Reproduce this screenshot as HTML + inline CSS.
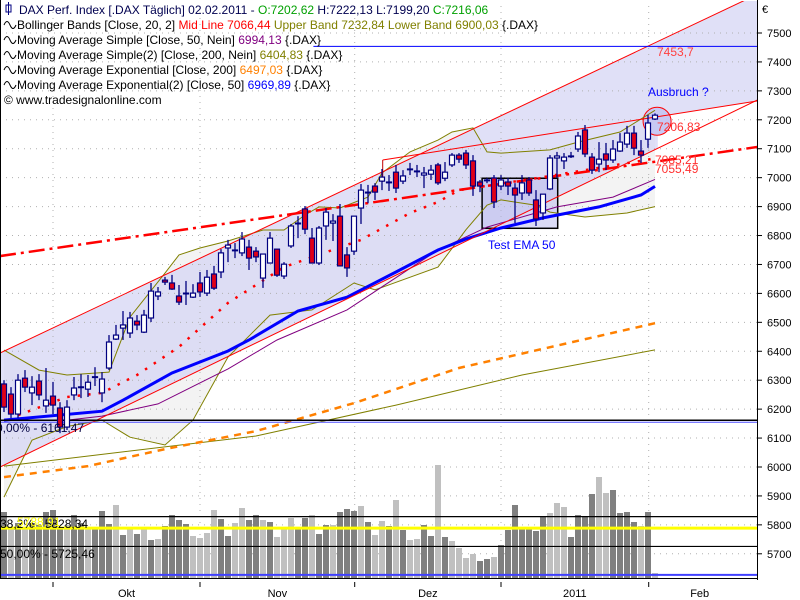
<!DOCTYPE html>
<html><head><meta charset="utf-8"><style>
html,body{margin:0;padding:0;background:#fff;}
svg{display:block;font-family:"Liberation Sans",sans-serif;}
</style></head><body>
<svg id="chart" width="800" height="600" viewBox="0 0 800 600" xmlns="http://www.w3.org/2000/svg">
<rect x="0" y="0" width="800" height="600" fill="#fff"/>
<defs><clipPath id="plotclip"><rect x="1" y="1" width="756" height="577"/></clipPath></defs>
<g id="plot" clip-path="url(#plotclip)"></g>
<g id="axes"></g>
<g id="legend" font-size="12">
<text x="19" y="14"><tspan fill="#000050">DAX Perf. Index [.DAX  Täglich] 02.02.2011 - </tspan><tspan fill="#00a000">O:7202,62</tspan><tspan fill="#000050"> H:7222,13 L:7199,20 </tspan><tspan fill="#00a000">C:7216,06</tspan></text>
<text x="17" y="29"><tspan>Bollinger Bands [Close, 20, 2] </tspan><tspan fill="#ff0000">Mid Line 7066,44 </tspan><tspan fill="#808000">Upper Band 7232,84 Lower Band 6900,03 </tspan><tspan>{.DAX}</tspan></text>
<text x="17" y="44">Moving Average Simple [Close, 50, Nein] <tspan fill="#800080">6994,13</tspan> {.DAX}</text>
<text x="17" y="59">Moving Average Simple(2) [Close, 200, Nein] <tspan fill="#808000">6404,83</tspan> {.DAX}</text>
<text x="17" y="74">Moving Average Exponential [Close, 200] <tspan fill="#ff8000">6497,03</tspan> {.DAX}</text>
<text x="17" y="89">Moving Average Exponential(2) [Close, 50] <tspan fill="#0000ff">6969,89</tspan> {.DAX}</text>
<text x="4" y="104">© www.tradesignalonline.com</text>
</g>
</svg>
<script>
// ---- data ----
const opens  = [6287,6252,6183,6307,6256,6297,6211,6245,6204,6138,6249,6276,6269,6311,6256,6342,6442,6480,6463,6504,6466,6515,6591,6646,6636,6591,6601,6587,6636,6601,6667,6674,6757,6750,6740,6760,6746,6653,6705,6753,6660,6764,6843,6892,6791,6705,6833,6843,6867,6733,6746,6895,6947,6971,6988,6985,7019,6988,7030,7023,7009,7012,7044,6998,7044,7078,7085,7058,6985,6992,6999,6971,6985,6964,6947,6992,6923,6878,6961,7068,7058,7075,7099,7165,7071,7047,7082,7061,7092,7116,7154,7092,7133,7202.62];
const highs  = [6300,6276,6321,6335,6314,6321,6342,6294,6224,6231,6311,6321,6318,6345,6328,6456,6491,6539,6536,6525,6543,6636,6622,6657,6664,6629,6643,6632,6674,6681,6695,6753,6785,6774,6812,6785,6760,6736,6812,6753,6708,6840,6867,6902,6826,6833,6895,6874,6909,6760,6867,6978,6975,6981,7030,7009,7044,7026,7051,7044,7037,7044,7051,7054,7085,7085,7096,7078,6992,6999,7009,7009,6999,6981,7009,7002,6957,6943,7078,7089,7085,7089,7158,7182,7085,7123,7120,7130,7154,7179,7179,7130,7217,7222.13];
const lows   = [6190,6169,6169,6259,6214,6231,6187,6183,6117,6128,6231,6238,6242,6280,6224,6335,6439,6439,6446,6473,6463,6501,6577,6629,6612,6560,6560,6584,6588,6591,6612,6653,6708,6722,6729,6681,6708,6619,6708,6657,6650,6757,6791,6805,6705,6698,6785,6781,6695,6657,6733,6840,6912,6923,6957,6954,6947,6978,7009,7002,6964,6992,6975,6988,7037,7051,7030,6937,6950,6981,6895,6957,6940,6843,6923,6937,6833,6854,6957,6999,7030,7068,7089,7071,7013,7019,7026,7051,7089,7103,7078,7051,7103,7199.20];
const closes = [6207,6183,6300,6276,6276,6249,6231,6214,6138,6207,6273,6277,6293,6312,6304,6432,6456,6491,6515,6491,6525,6608,6605,6639,6615,6570,6601,6601,6605,6656,6618,6740,6767,6750,6788,6722,6726,6736,6791,6663,6701,6833,6843,6822,6705,6826,6881,6850,6695,6688,6867,6957,6950,6950,7002,6985,6964,7006,7030,7023,7016,7026,6982,7019,7078,7064,7044,6971,6971,6992,6916,6992,6971,6940,6982,6947,6857,6943,7068,7075,7071,7075,7144,7082,7026,7064,7061,7099,7123,7154,7102,7078,7189,7216.06];
const volumes = [66,50,55,49,55,53,66,68,49,53,63,55,50,50,67,54,73,43,50,44,50,38,39,52,63,58,54,42,40,45,68,59,42,55,70,58,63,58,56,41,50,60,50,60,63,44,53,53,66,69,67,72,56,43,57,52,78,48,38,39,53,42,113,41,37,30,20,24,17,19,21,33,48,73,50,50,47,61,65,75,71,41,63,61,84,101,85,88,65,66,56,52,66,5];
const volShade = "dldldddddlddldddldldldlddddllllddllddldlllddlddldddldlldldllddldllllddldddddddlllddddllddddldldlld";
const ema50Idx = [0,14,17,24,32,35,42,49,56,62,66,71,77,85,91,93];
const ema50Val = [6162,6193,6231,6325,6401,6439,6539,6587,6674,6750,6788,6826,6861,6899,6940,6969.89];
const sma50Idx = [8,14,22,32,39,49,62,69,79,87,93];
const sma50Val = [6159,6176,6218,6339,6439,6543,6750,6829,6899,6933,6994.13];
const bbUpIdx = [0,5,9,15,18,23,25,28,32,37,40,43,45,48,52,54,58,62,64,67,69,71,78,82,88,93];
const bbUpVal = [6404,6335,6318,6328,6518,6670,6733,6757,6781,6819,6819,6871,6899,6895,6933,7016,7089,7130,7158,7172,7089,7085,7096,7123,7158,7232.84];
const bbLoIdx = [0,4,9,14,18,23,27,32,38,44,50,53,62,66,69,71,76,78,83,89,93];
const bbLoVal = [5896,6093,6140,6162,6103,6076,6162,6380,6525,6543,6636,6612,6691,6820,6905,6923,6905,6881,6864,6878,6900.03];
const bbMidIdx = [2,9,14,19,25,32,40,51,58,62,65,77,90,93];
const bbMidVal = [6179,6242,6256,6318,6415,6567,6691,6785,6878,6916,6957,7002,7054,7066.44];
const ema200Idx = [0,12,23,36,50,65,80,93];
const ema200Val = [5965,6003,6062,6124,6221,6342,6425,6497.03];
const sma200Idx = [0,36,56,74,93];
const sma200Val = [6003,6107,6214,6318,6404.83];
const priceTicks = [7500,7400,7300,7200,7100,7000,6900,6800,6700,6600,6500,6400,6300,6200,6100,6000,5900,5800,5700];
const monthLabels = ["Okt","Nov","Dez","2011","Feb"];
const monthTickIdx = [7,28,50.1,71,92.1];

const NS="http://www.w3.org/2000/svg";
function X(i){return 4+7*i;}
function Y(p){return 33+(7500-p)*0.28933;}
function V(v){return 578-v;}
const plot=document.getElementById('plot'), axes=document.getElementById('axes');
function mk(parent,tag,attrs){const e=document.createElementNS(NS,tag);for(const k in attrs)e.setAttribute(k,attrs[k]);parent.appendChild(e);return e;}
function pts(idx,val){return idx.map((i,k)=>X(i).toFixed(1)+','+Y(val[k]).toFixed(1)).join(' ');}

let bbPoly=pts(bbUpIdx,bbUpVal)+' '+bbLoIdx.map((i,k)=>X(i).toFixed(1)+','+Y(bbLoVal[k]).toFixed(1)).reverse().join(' ');
let e=mk(plot,'polygon',{points:bbPoly,fill:'#f3f3f3'});



const lineA=[-0.57,6394,105.9,7614], lineB=[54.1,7061,107.6,7265], lineC=[-0.57,6000,107.6,7268], lineD=[-0.57,6729,107.6,7106];
function at(l,i){return l[1]+(l[3]-l[1])*(i-l[0])/(l[2]-l[0]);}
const chPoly=[[-0.57,at(lineA,-0.57)],[107.6,at(lineA,107.6)],[107.6,at(lineB,107.6)],[93.4,at(lineB,93.4)],[93.4,at(lineC,93.4)],[-0.57,at(lineC,-0.57)]].map(q=>X(q[0]).toFixed(1)+','+Y(q[1]).toFixed(1)).join(' ');
e=mk(plot,'polygon',{points:chPoly,fill:'#d6d6f4','fill-opacity':'0.75'});



priceTicks.forEach(p=>{const g=mk(plot,'line',{x1:0,x2:757,y1:Y(p),y2:Y(p),stroke:'#b0b0b0','stroke-dasharray':'1,5'});

});
monthTickIdx.forEach(i=>{const g=mk(plot,'line',{x1:X(i),x2:X(i),y1:0,y2:578,stroke:'#b0b0b0','stroke-dasharray':'1,5'});

});

e=mk(plot,'rect',{x:X(68.3),y:Y(6998),width:X(79.1)-X(68.3),height:Y(6825)-Y(6998),fill:'#b8b8ec','fill-opacity':'0.5',stroke:'#000','stroke-width':1.5});



e=mk(plot,'circle',{cx:X(93.3),cy:Y(7195),r:14,fill:'#c8c8f4',stroke:'#ff0000','stroke-width':1});



function poly(idx,val,attrs,name){const p=mk(plot,'polyline',Object.assign({points:pts(idx,val),fill:'none'},attrs));return p;}
poly(sma200Idx,sma200Val,{stroke:'#808000','stroke-width':1},'sma200-line');
poly(ema200Idx,ema200Val,{stroke:'#ff8000','stroke-width':2.5,'stroke-dasharray':'7,6'},'ema200-line');
poly(bbUpIdx,bbUpVal,{stroke:'#808000','stroke-width':1},'bollinger-upper');
poly(bbLoIdx,bbLoVal,{stroke:'#808000','stroke-width':1},'bollinger-lower');
poly(sma50Idx,sma50Val,{stroke:'#800080','stroke-width':1},'sma50-line');
poly(ema50Idx,ema50Val,{stroke:'#0000ff','stroke-width':3},'ema50-line');
poly(bbMidIdx,bbMidVal,{stroke:'#ff0000','stroke-width':2.5,'stroke-dasharray':'2.5,8'},'bollinger-mid');
function tl(l,attrs,name){const p=mk(plot,'line',Object.assign({x1:X(l[0]),y1:Y(l[1]),x2:X(l[2]),y2:Y(l[3])},attrs));}
tl(lineA,{stroke:'#ff0000','stroke-width':1},'channel-upper');
tl(lineB,{stroke:'#ff0000','stroke-width':1},'resistance-line');
tl(lineC,{stroke:'#ff0000','stroke-width':1},'channel-lower');
tl(lineD,{stroke:'#ff0000','stroke-width':2.5,'stroke-dasharray':'16,5,3,5'},'trend-dash-dot');
e=mk(plot,'line',{x1:X(54.1),x2:X(54.1),y1:Y(7061),y2:Y(6985),stroke:'#c00000'});



const levels=[[7453.7,'#0000ff',1,44.2],[6161.47,'#000000',1.5,-1]];
levels.forEach(l=>{const s=l[3]<0?0:X(l[3]);const g=mk(plot,'line',{x1:s,x2:757,y1:Y(l[0]),y2:Y(l[0]),stroke:l[1],'stroke-width':l[2]});

});
e=mk(plot,'line',{x1:0,x2:757,y1:Y(6161.47)+2,y2:Y(6161.47)+2,stroke:'#5050ff','stroke-width':1});



for(let i=0;i<opens.length;i++){
  const x=X(i),o=opens[i],c=closes[i],up=c>=o;
  const w=mk(plot,'line',{x1:x,x2:x,y1:Y(highs[i]),y2:Y(lows[i]),stroke:'#000080','stroke-width':1.3});
  
  
  const top=Y(Math.max(o,c)),bot=Y(Math.min(o,c));
  const b=mk(plot,'rect',{x:x-2.5,y:top,width:5,height:Math.max(bot-top,0.8),fill:up?'#ffffff':'#e00018',stroke:'#000080','stroke-width':1.2});
  
  
}

for(let i=0;i<volumes.length;i++){
  const r=mk(plot,'rect',{x:X(i)-3,y:V(volumes[i]),width:6,height:volumes[i],fill:volShade[i]==='d'?'#808080':'#c0c0c0'});
  
  
}
[[5828.34,'#000',1.2],[5788.91,'#ffff00',3],[5725.46,'#000',1.2],[5627,'#4040ff',2]].forEach(l=>{const g=mk(plot,'line',{x1:0,x2:757,y1:Y(l[0]),y2:Y(l[0]),stroke:l[1],'stroke-width':l[2]});

});

function tx(parent,x,y,s,attrs,name){const t=mk(parent,'text',Object.assign({x:x,y:y,'font-size':12},attrs));t.textContent=s;return t;}
tx(plot,657,56,'7453,7',{fill:'#ff4040'},'level-label-7453');
tx(plot,648,96,'Ausbruch ?',{fill:'#0000ff'},'ausbruch-label');
tx(plot,657,131,'7206,83',{fill:'#ff3030'},'label-7206');
tx(plot,655,164,'7085,21',{fill:'#ff3030'},'label-7085');
tx(plot,655,173,'7055,49',{fill:'#ff3030'},'label-7055');
tx(plot,488,249,'Test EMA 50',{fill:'#0000ff'},'test-ema50-label');
tx(plot,-4,432,'0,00% - 6161,47',{fill:'#000040'},'fib-label-100');
tx(plot,0,528,'38,2% - 5828,34',{fill:'#000'},'fib-label-382');
tx(plot,17,526,'5788,91',{fill:'#ffff00'},'fib-label-yellow');
tx(plot,0,558,'50,00% - 5725,46',{fill:'#000'},'fib-label-50');

e=mk(axes,'line',{x1:757.5,x2:757.5,y1:0,y2:580,stroke:'#000'});


e=mk(axes,'line',{x1:0,x2:758,y1:578.5,y2:578.5,stroke:'#000'});


e=mk(axes,'line',{x1:0.5,x2:0.5,y1:0,y2:579,stroke:'#000'});


priceTicks.forEach(p=>{
  const t=mk(axes,'line',{x1:758,x2:762,y1:Y(p),y2:Y(p),stroke:'#000'});
  
  
  tx(axes,767,Y(p)+4,String(p),{fill:'#000','font-size':11},'y-tick-label');
});
tx(axes,762,13,'€',{fill:'#000','font-size':11},'currency-label');
monthTickIdx.forEach((i,k)=>{
  const t=mk(axes,'line',{x1:X(i),x2:X(i),y1:582,y2:587,stroke:'#000'});
  
  
  const nx=k<monthTickIdx.length-1?(X(i)+X(monthTickIdx[k+1]))/2:X(i)+51;
  tx(axes,nx,597,monthLabels[k],{fill:'#000','font-size':11,'text-anchor':'middle'},'x-tick-label');
});
const lg=document.getElementById('legend');
e=mk(lg,'rect',{x:6,y:5,width:5,height:7,fill:'#fff',stroke:'#000080'});


e=mk(lg,'line',{x1:8.5,x2:8.5,y1:2,y2:15,stroke:'#000080'});


for(let k=0;k<5;k++){
  const w=mk(lg,'path',{d:'M4 '+(25+15*k)+' q3 -7 6 0 t6 0',fill:'none',stroke:'#000','stroke-width':1});
  
  
}
</script>
</body></html>
